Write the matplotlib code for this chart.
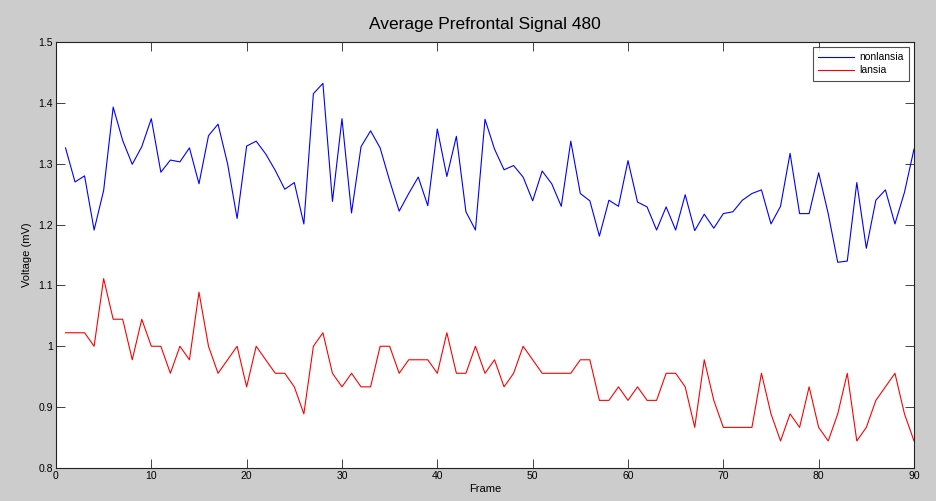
import numpy as np
import matplotlib
matplotlib.use("Agg")
import matplotlib.pyplot as plt

# --- data ---
frames = np.arange(1, 91)

nonlansia = [
    1.326, 1.270, 1.280, 1.191, 1.256, 1.393, 1.338, 1.299, 1.328, 1.374,
    1.286, 1.306, 1.303, 1.326, 1.267, 1.346, 1.365, 1.300, 1.210, 1.329,
    1.337, 1.316, 1.289, 1.258, 1.269, 1.201, 1.415, 1.432, 1.238, 1.374,
    1.219, 1.328, 1.354, 1.326, 1.272, 1.222, 1.251, 1.278, 1.231, 1.357,
    1.279, 1.345, 1.221, 1.191, 1.373, 1.324, 1.290, 1.297, 1.278, 1.239,
    1.288, 1.267, 1.230, 1.337, 1.251, 1.239, 1.181, 1.240, 1.230, 1.305,
    1.237, 1.229, 1.191, 1.229, 1.191, 1.249, 1.190, 1.217, 1.194, 1.218,
    1.221, 1.240, 1.251, 1.257, 1.201, 1.230, 1.317, 1.218, 1.218, 1.285,
    1.218, 1.138, 1.140, 1.269, 1.161, 1.240, 1.257, 1.201, 1.253, 1.324,
]

lansia = [
    1.0222, 1.0222, 1.0222, 1.0000, 1.1111, 1.0444, 1.0444, 0.9778, 1.0444, 1.0000,
    1.0000, 0.9556, 1.0000, 0.9778, 1.0889, 1.0000, 0.9556, 0.9778, 1.0000, 0.9333,
    1.0000, 0.9778, 0.9556, 0.9556, 0.9333, 0.8889, 1.0000, 1.0222, 0.9556, 0.9333,
    0.9556, 0.9333, 0.9333, 1.0000, 1.0000, 0.9556, 0.9778, 0.9778, 0.9778, 0.9556,
    1.0222, 0.9556, 0.9556, 1.0000, 0.9556, 0.9778, 0.9333, 0.9556, 1.0000, 0.9778,
    0.9556, 0.9556, 0.9556, 0.9556, 0.9778, 0.9778, 0.9111, 0.9111, 0.9333, 0.9111,
    0.9333, 0.9111, 0.9111, 0.9556, 0.9556, 0.9333, 0.8667, 0.9778, 0.9111, 0.8667,
    0.8667, 0.8667, 0.8667, 0.9556, 0.8889, 0.8444, 0.8889, 0.8667, 0.9333, 0.8667,
    0.8444, 0.8889, 0.9556, 0.8444, 0.8667, 0.9111, 0.9333, 0.9556, 0.8889, 0.8444,
]

xticks = np.arange(0, 91, 10)
yticks = [0.8, 0.9, 1, 1.1, 1.2, 1.3, 1.4, 1.5]
yticklabels = ["0.8", "0.9", "1", "1.1", "1.2", "1.3", "1.4", "1.5"]

plt.rcParams['font.family'] = ['Liberation Sans', 'DejaVu Sans']

fig = plt.figure(figsize=(9.36, 5.01), dpi=100, facecolor="#cccccc")
ax = fig.add_axes([0.0598, 0.0659, 0.9167, 0.8503])

ax.plot(frames, nonlansia, color="#0000ff", lw=0.8, label="nonlansia")
ax.plot(frames, lansia, color="#ff0000", lw=0.8, label="lansia")

ax.set_xlim(0, 90)
ax.set_ylim(0.8, 1.5)
ax.set_xticks(xticks)
ax.set_yticks(yticks)
ax.set_yticklabels(yticklabels)
ax.tick_params(direction="in", length=6.5, width=0.6, labelsize=7.5,
               top=True, right=True, colors="#222222", labelcolor="black", pad=2)
for s in ax.spines.values():
    s.set_linewidth(0.8)
    s.set_color("#222222")

ax.set_title("Average Prefrontal Signal 480", fontsize=12.5, pad=9)
ax.set_xlabel("Frame", fontsize=8, labelpad=2)
ax.set_ylabel("Voltage (mV)", fontsize=8, labelpad=4.5)

leg = ax.legend(loc="upper right", bbox_to_anchor=(0.9942, 0.9883), borderaxespad=0,
                fontsize=7.5, frameon=True, fancybox=False,
                handlelength=3.5, handletextpad=0.5, borderpad=0.5, labelspacing=0.3)
leg.get_frame().set_edgecolor("#222222")
leg.get_frame().set_linewidth(0.8)

fig.savefig("out.png", dpi=100, facecolor=fig.get_facecolor())
